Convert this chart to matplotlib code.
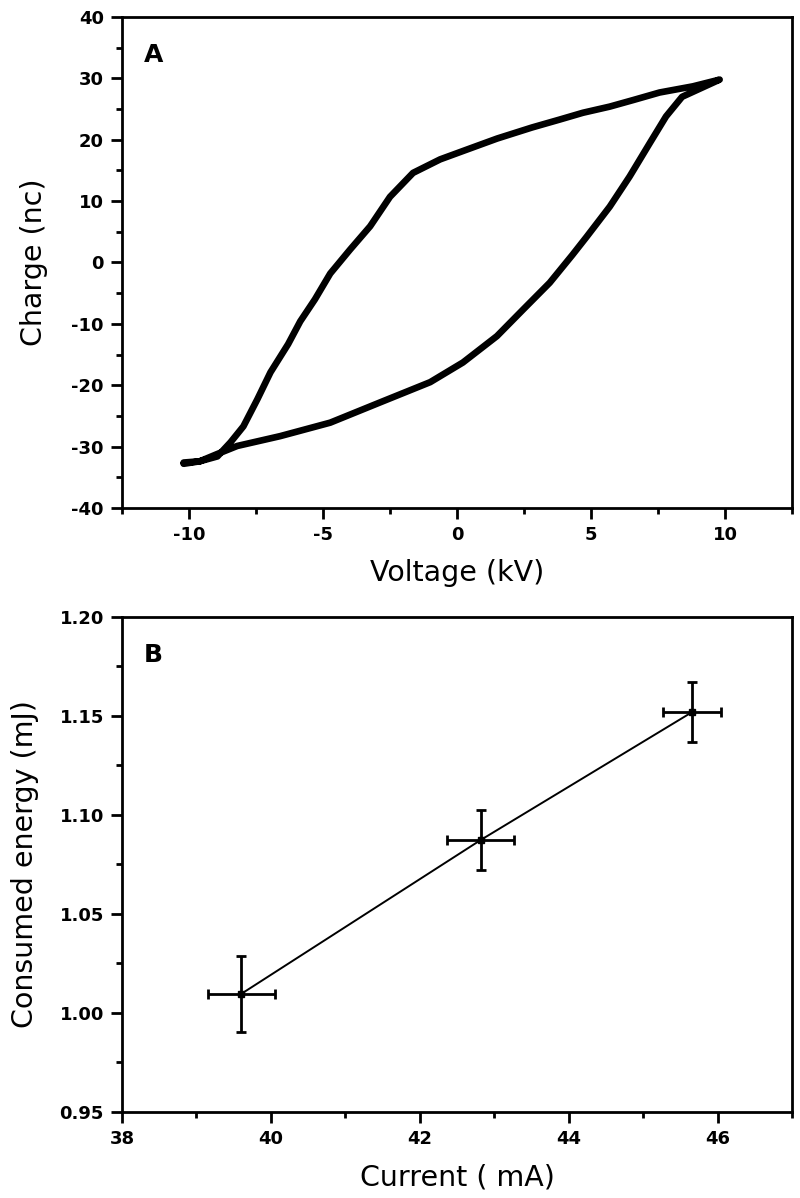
import numpy as np
import matplotlib
matplotlib.use("Agg")
import matplotlib.pyplot as plt
from matplotlib.ticker import MultipleLocator, FormatStrFormatter
from matplotlib.font_manager import FontProperties

plt.rcParams["axes.unicode_minus"] = False

# Panel A: charge-voltage loop (upper branch, then lower branch back)
voltage_kv = [-10.2, -9.6, -8.94, -8.45, -7.97, -7.45, -6.96, -6.3, -5.85, -5.3, -4.73,
              -3.99, -3.24, -2.5, -1.64, -0.63, 0.37, 1.5, 2.8, 3.84, 4.7, 5.7, 6.6,
              7.56, 8.8, 9.8,
              8.4, 7.8, 7.2, 6.44, 5.7, 4.84, 4.3, 3.46, 2.46, 1.49, 0.22, -1.0,
              -2.87, -4.73, -6.6, -8.2, -8.94, -9.6, -10.2]
charge_nc = [-32.6, -32.4, -31.6, -29.3, -26.7, -22.3, -17.9, -13.3, -9.6, -6.0, -1.8,
             2.1, 5.9, 10.7, 14.6, 16.8, 18.4, 20.2, 22.0, 23.3, 24.4, 25.4, 26.5,
             27.7, 28.7, 29.8,
             27.0, 23.8, 19.5, 14.0, 9.1, 4.2, 1.2, -3.3, -7.7, -12.0, -16.3, -19.5,
             -22.8, -26.1, -28.3, -29.9, -31.2, -32.4, -32.8]

# Panel B: consumed energy vs current with error bars
current_ma = [39.6, 42.82, 45.66]
energy_mj = [1.0096, 1.0874, 1.152]
current_err = [0.45, 0.45, 0.39]
energy_err = [0.019, 0.015, 0.015]

TICK_FONT = dict(family="DejaVu Sans", size=13, weight="bold")
LABEL_SIZE = 20.5


def style_axes(ax):
    for sp in ax.spines.values():
        sp.set_linewidth(2)
    ax.tick_params(which="major", direction="out", length=8, width=2, pad=5,
                   top=False, right=False)
    ax.tick_params(which="minor", direction="out", length=4.5, width=2,
                   top=False, right=False)
    for lab in ax.get_xticklabels() + ax.get_yticklabels():
        lab.set_fontproperties(FontProperties(**TICK_FONT))


fig = plt.figure(figsize=(8, 11.98), dpi=100)

# ---- Panel A ----
axA = fig.add_axes([0.1525, 0.5760, 0.8375, 0.4098])
axA.plot(voltage_kv, charge_nc, color="black", lw=4.8, solid_capstyle="round",
         solid_joinstyle="round")
axA.set_xlim(-12.5, 12.5)
axA.set_ylim(-40, 40)
axA.xaxis.set_major_locator(MultipleLocator(5))
axA.xaxis.set_minor_locator(MultipleLocator(2.5))
axA.yaxis.set_major_locator(MultipleLocator(10))
axA.yaxis.set_minor_locator(MultipleLocator(5))
axA.set_xlabel("Voltage (kV)", fontsize=LABEL_SIZE, labelpad=11)
axA.set_ylabel("Charge (nc)", fontsize=LABEL_SIZE, labelpad=17)
axA.text(0.033, 0.947, "A", transform=axA.transAxes, fontsize=18,
         fontweight="bold", va="top", ha="left")
style_axes(axA)

# ---- Panel B ----
axB = fig.add_axes([0.1525, 0.0718, 0.8375, 0.4132])
axB.plot(current_ma, energy_mj, color="black", lw=1.4)
axB.errorbar(current_ma, energy_mj, xerr=current_err, yerr=energy_err,
             fmt="s", color="black", ms=4, elinewidth=2, capsize=3.5,
             capthick=2)
axB.set_xlim(38, 47)
axB.set_ylim(0.95, 1.20)
axB.xaxis.set_major_locator(MultipleLocator(2))
axB.xaxis.set_minor_locator(MultipleLocator(1))
axB.yaxis.set_major_locator(MultipleLocator(0.05))
axB.yaxis.set_minor_locator(MultipleLocator(0.025))
axB.yaxis.set_major_formatter(FormatStrFormatter("%.2f"))
axB.set_xlabel("Current ( mA)", fontsize=LABEL_SIZE, labelpad=11)
axB.set_ylabel("Consumed energy (mJ)", fontsize=LABEL_SIZE, labelpad=14.5)
axB.text(0.033, 0.947, "B", transform=axB.transAxes, fontsize=18,
         fontweight="bold", va="top", ha="left")
style_axes(axB)

fig.savefig("out.png", dpi=100)
